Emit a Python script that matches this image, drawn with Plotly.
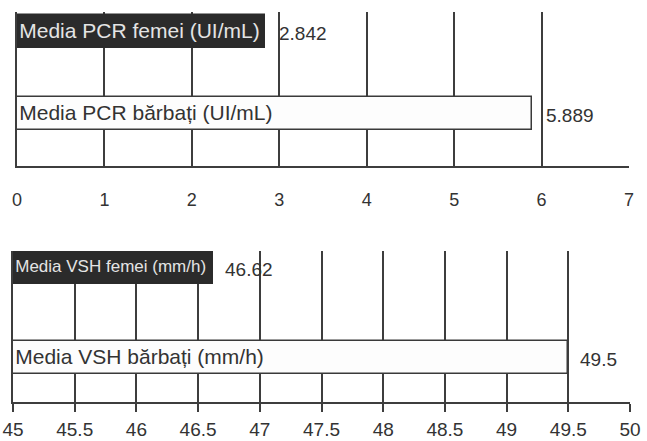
import plotly.graph_objects as go

# ---- data ----
pcr_labels = ["Media PCR bărbați (UI/mL)", "Media PCR femei (UI/mL)"]
pcr_values = [5.889, 2.842]
pcr_ticks = [0, 1, 2, 3, 4, 5, 6, 7]

vsh_labels = ["Media VSH bărbați (mm/h)", "Media VSH femei (mm/h)"]
vsh_values = [49.5, 46.62]
vsh_base = 45
vsh_ticks = [45, 45.5, 46, 46.5, 47, 47.5, 48, 48.5, 49, 49.5, 50]

W, H = 647, 441
FONT = "Arial, Liberation Sans, sans-serif"
GRID = "#3d3d3d"
DARK = "#2b2b2b"
LIGHT_TXT = "#e4e4e4"
TXT = "#333333"


def px_x(a, b):
    return [a / W, b / W]


def px_y(top, bottom):
    return [1 - bottom / H, 1 - top / H]


fig = go.Figure()

# top chart (PCR)
fig.add_trace(go.Bar(
    y=pcr_labels, x=pcr_values, orientation="h", width=0.4,
    marker=dict(color=["#fdfdfd", DARK], line=dict(color=["#3a3a3a", DARK], width=1.5)),
    text=pcr_labels, textposition="inside", insidetextanchor="start", textangle=0,
    constraintext="none",
    textfont=dict(family=FONT, size=[21, 21], color=[TXT, LIGHT_TXT]),
    xaxis="x", yaxis="y", showlegend=False, hoverinfo="x+y",
))

# bottom chart (VSH)
fig.add_trace(go.Bar(
    y=vsh_labels, x=[v - vsh_base for v in vsh_values], base=vsh_base,
    orientation="h", width=0.367,
    marker=dict(color=["#fdfdfd", DARK], line=dict(color=["#3a3a3a", DARK], width=1.5)),
    text=vsh_labels, textposition="inside", insidetextanchor="start", textangle=0,
    constraintext="none",
    textfont=dict(family=FONT, size=[21, 17], color=[TXT, LIGHT_TXT]),
    xaxis="x2", yaxis="y2", showlegend=False, hoverinfo="y",
))

annotations = []
for lab, v in zip(pcr_labels, pcr_values):
    annotations.append(dict(x=v, y=lab, xref="x", yref="y", text=str(v),
                            showarrow=False, xanchor="left", xshift=12, yshift=-2,
                            font=dict(family=FONT, size=19, color=TXT)))
for lab, v in zip(vsh_labels, vsh_values):
    annotations.append(dict(x=v, y=lab, xref="x2", yref="y2", text=str(v),
                            showarrow=False, xanchor="left", xshift=10, yshift=-2,
                            font=dict(family=FONT, size=19, color=TXT)))

fig.update_layout(
    width=W, height=H,
    margin=dict(l=0, r=0, t=0, b=0),
    paper_bgcolor="white", plot_bgcolor="white",
    bargap=0,
    annotations=annotations,
    xaxis=dict(domain=px_x(17, 629), range=[0, 7], tickvals=pcr_ticks,
               showgrid=True, gridcolor=GRID, gridwidth=1.5, zeroline=False,
               showline=True, linecolor=GRID, linewidth=1.5, ticks="",
               ticklabelstandoff=17, automargin=False,
               tickfont=dict(family=FONT, size=18, color=TXT), anchor="y"),
    yaxis=dict(domain=px_y(12, 166), type="category", categoryarray=pcr_labels,
               range=[-0.64, 1.238], showticklabels=False, showgrid=False,
               showline=True, linecolor=GRID, linewidth=1.5, zeroline=False,
               automargin=False, anchor="x"),
    xaxis2=dict(domain=px_x(13, 630), range=[45, 50], tickvals=vsh_ticks,
                showgrid=True, gridcolor=GRID, gridwidth=1.5, zeroline=False,
                showline=True, linecolor=GRID, linewidth=1.5, ticks="outside",
                ticklen=8, tickwidth=1.5, tickcolor=GRID, ticklabelstandoff=1,
                automargin=False,
                tickfont=dict(family=FONT, size=19, color=TXT), anchor="y2"),
    yaxis2=dict(domain=px_y(251, 402), type="category", categoryarray=vsh_labels,
                range=[-0.494, 1.183], showticklabels=False, showgrid=False,
                showline=True, linecolor=GRID, linewidth=1.5, zeroline=False,
                automargin=False, anchor="x2"),
)

fig.write_html("out.html", config={"displayModeBar": False},
               post_script="document.body.style.margin='0';document.body.style.overflow='hidden';")
